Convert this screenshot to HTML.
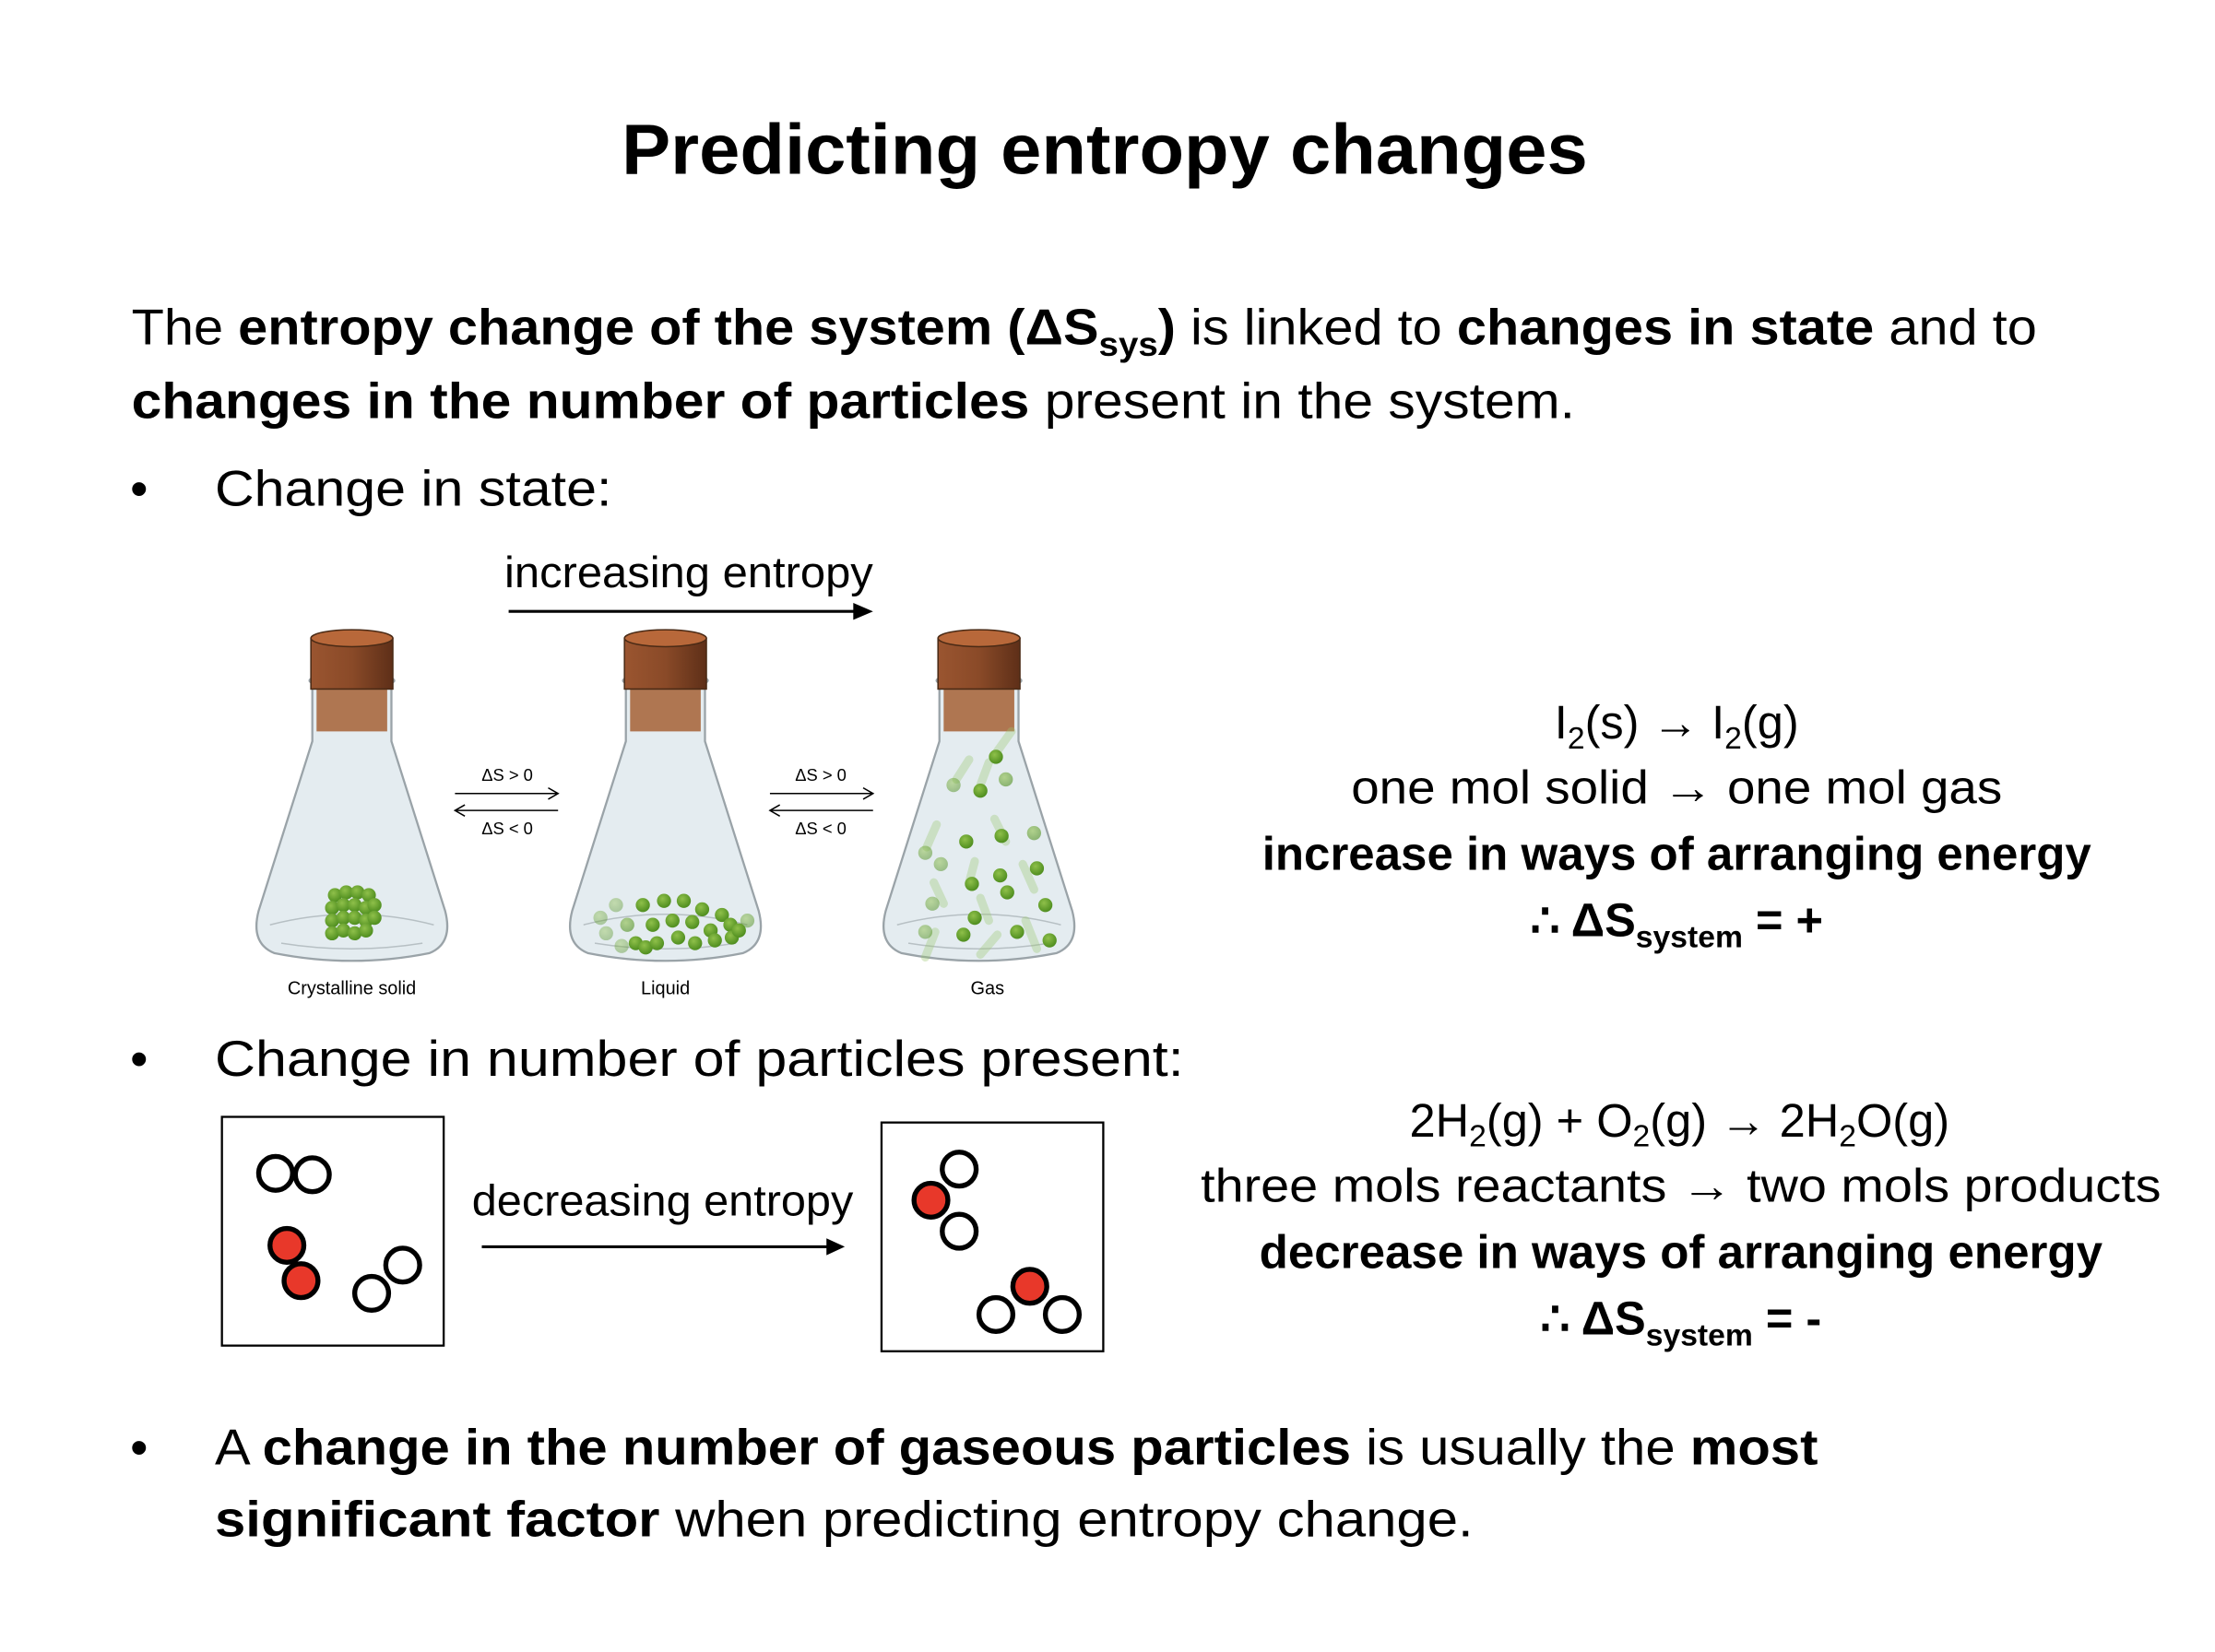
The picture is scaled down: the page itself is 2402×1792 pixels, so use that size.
<!DOCTYPE html>
<html><head><meta charset="utf-8"><style>
html,body{margin:0;padding:0;background:#fff;}
svg{display:block}
text{font-family:"Liberation Sans",sans-serif;fill:#000}
.b{font-weight:bold}
</style></head><body>
<svg width="2402" height="1792" viewBox="0 0 1568 1170" xmlns="http://www.w3.org/2000/svg">
<defs>
<radialGradient id="gb" cx="0.4" cy="0.35" r="0.7"><stop offset="0" stop-color="#8fc04a"/><stop offset="1" stop-color="#4a8a1c"/></radialGradient>
<linearGradient id="cork" x1="0" x2="1"><stop offset="0" stop-color="#9a5530"/><stop offset="0.5" stop-color="#8a4a28"/><stop offset="1" stop-color="#5e2f18"/></linearGradient>
<g id="flask">
<path d="M-28,482 L-28,525 L-66,645 Q-72,668 -55,675 Q0,686 55,675 Q72,668 66,645 L28,525 L28,482 Z" fill="#dde7ec" fill-opacity="0.8" stroke="#9aa3a8" stroke-width="1.5"/>
<ellipse cx="0" cy="482" rx="30" ry="5" fill="none" stroke="#9aa3a8" stroke-width="1.5"/>
<rect x="-25" y="486" width="50" height="32" fill="#a8693f" opacity="0.9"/>
<rect x="-29" y="452" width="58" height="36" fill="url(#cork)" stroke="#4a2a15" stroke-width="1"/>
<ellipse cx="0" cy="452" rx="29" ry="6" fill="#b8683a" stroke="#4a2a15" stroke-width="1"/>
<path d="M-58,655 Q0,640 58,655" fill="none" stroke="#b7c0c4" stroke-width="1"/>
<path d="M-50,668 Q0,676 50,668" fill="none" stroke="#b7c0c4" stroke-width="1"/>
</g>
</defs>

<text x="782" y="123" text-anchor="middle" class="b" font-size="50" textLength="684" lengthAdjust="spacingAndGlyphs">Predicting entropy changes</text>

<text x="93" y="244" font-size="36" textLength="1349" lengthAdjust="spacingAndGlyphs">The <tspan class="b">entropy change of the system (ΔS<tspan font-size="24" dy="8">sys</tspan><tspan dy="-8">)</tspan></tspan> is linked to <tspan class="b">changes in state</tspan> and to</text>
<text x="93" y="296" font-size="36" textLength="1022" lengthAdjust="spacingAndGlyphs"><tspan class="b">changes in the number of particles</tspan> present in the system.</text>

<text x="92" y="358" font-size="36">•</text>
<text x="152" y="358" font-size="36" textLength="281" lengthAdjust="spacingAndGlyphs">Change in state:</text>

<text x="357" y="416" font-size="31" textLength="261" lengthAdjust="spacingAndGlyphs">increasing entropy</text>
<line x1="360" y1="433" x2="606" y2="433" stroke="#000" stroke-width="2"/>
<polygon points="604,427 618,433 604,439" fill="#000"/>

<use href="#flask" x="249"/>
<use href="#flask" x="471"/>
<use href="#flask" x="693"/>

<!-- solid -->
<g fill="url(#gb)">
<circle cx="237" cy="634" r="5"/><circle cx="245" cy="632" r="5"/><circle cx="253" cy="632" r="5"/><circle cx="261" cy="634" r="5"/>
<circle cx="235" cy="643" r="5"/><circle cx="243" cy="641" r="5"/><circle cx="251" cy="641" r="5"/><circle cx="259" cy="643" r="5"/><circle cx="265" cy="641" r="5"/>
<circle cx="235" cy="652" r="5"/><circle cx="243" cy="650" r="5"/><circle cx="251" cy="650" r="5"/><circle cx="259" cy="652" r="5"/><circle cx="265" cy="650" r="5"/>
<circle cx="235" cy="661" r="5"/><circle cx="243" cy="659" r="5"/><circle cx="251" cy="661" r="5"/><circle cx="259" cy="659" r="5"/>
</g>
<!-- liquid -->
<g fill="url(#gb)">
<circle cx="436" cy="641" r="5" opacity="0.4"/><circle cx="425" cy="650" r="5" opacity="0.4"/><circle cx="429" cy="661" r="5" opacity="0.4"/><circle cx="440" cy="670" r="5" opacity="0.4"/><circle cx="444" cy="655" r="5" opacity="0.6"/>
<circle cx="455" cy="641" r="5"/><circle cx="470" cy="638" r="5"/><circle cx="484" cy="638" r="5"/><circle cx="497" cy="644" r="5"/><circle cx="511" cy="648" r="5"/>
<circle cx="462" cy="655" r="5"/><circle cx="476" cy="652" r="5"/><circle cx="490" cy="653" r="5"/><circle cx="503" cy="659" r="5"/><circle cx="517" cy="655" r="5"/><circle cx="529" cy="652" r="5" opacity="0.5"/>
<circle cx="450" cy="668" r="5"/><circle cx="457" cy="671" r="5"/><circle cx="465" cy="668" r="5"/><circle cx="480" cy="664" r="5"/><circle cx="492" cy="668" r="5"/><circle cx="506" cy="666" r="5"/><circle cx="518" cy="664" r="5"/><circle cx="523" cy="659" r="5"/>
</g>
<!-- gas -->
<g fill="url(#gb)">
<g stroke="#9cc870" stroke-width="6" stroke-linecap="round" opacity="0.35">
<line x1="677" y1="552" x2="686" y2="538"/><line x1="706" y1="532" x2="716" y2="518"/><line x1="694" y1="556" x2="700" y2="540"/>
<line x1="656" y1="600" x2="663" y2="584"/><line x1="686" y1="625" x2="690" y2="610"/><line x1="712" y1="596" x2="704" y2="580"/>
<line x1="668" y1="640" x2="661" y2="625"/><line x1="700" y1="652" x2="694" y2="636"/><line x1="732" y1="630" x2="724" y2="612"/>
<line x1="655" y1="678" x2="662" y2="660"/><line x1="694" y1="676" x2="706" y2="662"/><line x1="734" y1="672" x2="726" y2="652"/>
</g>
<circle cx="675" cy="556" r="5" opacity="0.5"/><circle cx="705" cy="536" r="5"/><circle cx="694" cy="560" r="5"/><circle cx="712" cy="552" r="5" opacity="0.6"/>
<circle cx="655" cy="604" r="5" opacity="0.5"/><circle cx="684" cy="596" r="5"/><circle cx="709" cy="592" r="5"/><circle cx="732" cy="590" r="5" opacity="0.6"/>
<circle cx="666" cy="612" r="5" opacity="0.5"/><circle cx="688" cy="626" r="5"/><circle cx="708" cy="620" r="5"/><circle cx="734" cy="615" r="5"/>
<circle cx="660" cy="640" r="5" opacity="0.5"/><circle cx="690" cy="650" r="5"/><circle cx="713" cy="632" r="5"/><circle cx="740" cy="641" r="5"/>
<circle cx="655" cy="660" r="5" opacity="0.5"/><circle cx="682" cy="662" r="5"/><circle cx="720" cy="660" r="5"/><circle cx="743" cy="666" r="5"/>
</g>

<g stroke="#000" stroke-width="1" fill="#000">
<line x1="322" y1="562" x2="394" y2="562"/><polyline points="388,558 395,562 388,566" fill="none"/>
<line x1="323" y1="574" x2="395" y2="574"/><polyline points="329,570 322,574 329,578" fill="none"/>
<line x1="545" y1="562" x2="617" y2="562"/><polyline points="611,558 618,562 611,566" fill="none"/>
<line x1="546" y1="574" x2="618" y2="574"/><polyline points="552,570 545,574 552,578" fill="none"/>
</g>
<g font-size="12" text-anchor="middle">
<text x="359" y="553">ΔS &gt; 0</text><text x="359" y="591">ΔS &lt; 0</text>
<text x="581" y="553">ΔS &gt; 0</text><text x="581" y="591">ΔS &lt; 0</text>
</g>
<g font-size="13" text-anchor="middle" fill="#222">
<text x="249" y="704">Crystalline solid</text><text x="471" y="704">Liquid</text><text x="699" y="704">Gas</text>
</g>

<g font-size="33" text-anchor="middle">
<text x="1187" y="523">I<tspan font-size="22" dy="7">2</tspan><tspan dy="-7">(s) → I</tspan><tspan font-size="22" dy="7">2</tspan><tspan dy="-7">(g)</tspan></text>
<text x="1187" y="569" textLength="461" lengthAdjust="spacingAndGlyphs">one mol solid → one mol gas</text>
<text x="1187" y="616" class="b" textLength="587" lengthAdjust="spacingAndGlyphs">increase in ways of arranging energy</text>
<text x="1187" y="663" class="b">∴ ΔS<tspan font-size="22" dy="8">system</tspan><tspan dy="-8"> = +</tspan></text>
</g>

<text x="92" y="762" font-size="36">•</text>
<text x="152" y="762" font-size="36" textLength="686" lengthAdjust="spacingAndGlyphs">Change in number of particles present:</text>

<rect x="157" y="791" width="157" height="162" fill="#fff" stroke="#000" stroke-width="1.5"/>
<rect x="624" y="795" width="157" height="162" fill="#fff" stroke="#000" stroke-width="1.5"/>
<g stroke="#000" stroke-width="3.5">
<circle cx="195" cy="831" r="12" fill="#fff"/><circle cx="221" cy="832" r="12" fill="#fff"/>
<circle cx="203" cy="882" r="12" fill="#e8382a"/><circle cx="213" cy="907" r="12" fill="#e8382a"/>
<circle cx="263" cy="916" r="12" fill="#fff"/><circle cx="285" cy="896" r="12" fill="#fff"/>
<circle cx="679" cy="828" r="12" fill="#fff"/><circle cx="679" cy="872" r="12" fill="#fff"/><circle cx="659" cy="850" r="12" fill="#e8382a"/>
<circle cx="705" cy="931" r="12" fill="#fff"/><circle cx="752" cy="931" r="12" fill="#fff"/><circle cx="729" cy="911" r="12" fill="#e8382a"/>
</g>
<text x="334" y="861" font-size="31" textLength="270" lengthAdjust="spacingAndGlyphs">decreasing entropy</text>
<line x1="341" y1="883" x2="588" y2="883" stroke="#000" stroke-width="2"/>
<polygon points="585,877 598,883 585,889" fill="#000"/>

<g font-size="33" text-anchor="middle">
<text x="1189" y="805">2H<tspan font-size="22" dy="7">2</tspan><tspan dy="-7">(g) + O</tspan><tspan font-size="22" dy="7">2</tspan><tspan dy="-7">(g) → 2H</tspan><tspan font-size="22" dy="7">2</tspan><tspan dy="-7">O(g)</tspan></text>
<text x="1190" y="851" textLength="680" lengthAdjust="spacingAndGlyphs">three mols reactants → two mols products</text>
<text x="1190" y="898" class="b" textLength="597" lengthAdjust="spacingAndGlyphs">decrease in ways of arranging energy</text>
<text x="1190" y="945" class="b">∴ ΔS<tspan font-size="22" dy="8">system</tspan><tspan dy="-8"> = -</tspan></text>
</g>

<text x="92" y="1037" font-size="36">•</text>
<text x="152" y="1037" font-size="36" textLength="1135" lengthAdjust="spacingAndGlyphs">A <tspan class="b">change in the number of gaseous particles</tspan> is usually the <tspan class="b">most</tspan></text>
<text x="152" y="1088" font-size="36" textLength="891" lengthAdjust="spacingAndGlyphs"><tspan class="b">significant factor</tspan> when predicting entropy change.</text>
</svg>
</body></html>
